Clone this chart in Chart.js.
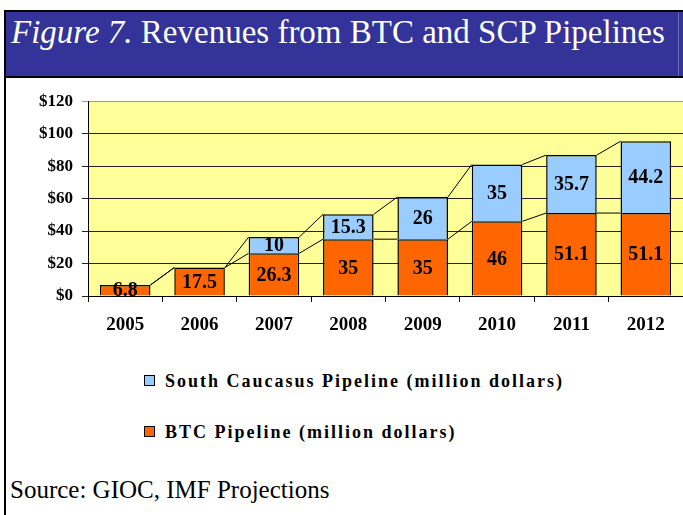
<!DOCTYPE html>
<html>
<head>
<meta charset="utf-8">
<script src="https://cdn.jsdelivr.net/npm/chart.js@4"></script>
<style>
  html, body { margin: 0; padding: 0; background: #fff; }
  body { width: 683px; height: 515px; position: relative; overflow: hidden; font-family: "Liberation Serif", serif; }
  #frameLeft { position: absolute; left: 4px; top: 10px; width: 2px; height: 505px; background: #000; }
  #title { position: absolute; left: 4px; top: 10px; width: 679px; height: 64px; background: #333399;
           border-top: 2px solid #000; border-bottom: 2px solid #000; border-left: 2px solid #000; box-sizing: content-box; }
  #titleText { position: absolute; left: 5px; top: 1px; color: #fff; font-size: 33px; line-height: 38px; white-space: nowrap; }
  #titleEdge { position: absolute; left: 672px; top: 0; width: 1px; height: 64px; background: #6a6ab8; }
  #chartWrap { position: absolute; left: 0; top: 82px; width: 683px; height: 258px; }
  #legend { position: absolute; left: 144px; top: 370px; }
  .lg { position: absolute; left: 0; white-space: nowrap; font-weight: bold; font-size: 18px; line-height: 22px; letter-spacing: 2px; color: #000; }
  .lg .box { display: inline-block; width: 9px; height: 9px; border: 1px solid #000; margin-right: 10px; vertical-align: 1px; }
  #source { position: absolute; left: 10px; top: 475px; font-size: 25px; line-height: 29px; color: #000; white-space: nowrap; }
</style>
</head>
<body>
<div id="title"><div id="titleText"><i>Figure 7.</i> Revenues from BTC and SCP Pipelines</div><div id="titleEdge"></div></div>
<div id="frameLeft"></div>
<div id="chartWrap"><canvas id="c" width="683" height="258"></canvas></div>
<div id="legend"></div>
<div id="source">Source: GIOC, IMF Projections</div>
<script>
const years = ['2005', '2006', '2007', '2008', '2009', '2010', '2011', '2012'];
const btcValues = [6.8, 17.5, 26.3, 35, 35, 46, 51.1, 51.1];
const scpValues = [0, 0, 10, 15.3, 26, 35, 35.7, 44.2];
const btcLabel = 'BTC Pipeline (million dollars)';
const scpLabel = 'South Caucasus Pipeline (million dollars)';
const yTicks = [0, 20, 40, 60, 80, 100, 120];

const FONT = '"Liberation Serif", serif';

const seriesLines = {
  id: 'seriesLines',
  afterDatasetsDraw(chart) {
    const ctx = chart.ctx;
    ctx.save();
    ctx.strokeStyle = '#000';
    ctx.lineWidth = 1;
    chart.data.datasets.forEach((ds, di) => {
      const meta = chart.getDatasetMeta(di);
      for (let j = 0; j < meta.data.length - 1; j++) {
        const a = meta.data[j], b = meta.data[j + 1];
        ctx.beginPath();
        ctx.moveTo(a.x + a.width / 2, a.y);
        ctx.lineTo(b.x - b.width / 2, b.y);
        ctx.stroke();
      }
    });
    ctx.restore();
  }
};

const barLabels = {
  id: 'barLabels',
  afterDraw(chart) {
    const ctx = chart.ctx;
    ctx.save();
    ctx.font = 'bold 20px ' + FONT;
    ctx.fillStyle = '#000';
    ctx.textAlign = 'center';
    ctx.textBaseline = 'middle';
    chart.data.datasets.forEach((ds, di) => {
      const meta = chart.getDatasetMeta(di);
      meta.data.forEach((el, j) => {
        const v = ds.data[j];
        if (!v) return;
        ctx.fillText(String(v), el.x, (el.y + el.base) / 2 + 1);
      });
    });
    ctx.restore();
  }
};

const chart = new Chart(document.getElementById('c'), {
  type: 'bar',
  data: {
    labels: years,
    datasets: [
      { label: btcLabel, data: btcValues, backgroundColor: '#FF6600', borderColor: '#000', borderWidth: 1.5,
        barPercentage: 0.68, categoryPercentage: 1.0 },
      { label: scpLabel, data: scpValues, backgroundColor: '#99CCFF', borderColor: '#000', borderWidth: 1.5,
        barPercentage: 0.68, categoryPercentage: 1.0 }
    ]
  },
  options: {
    responsive: false,
    animation: false,
    events: [],
    layout: { padding: { top: 0, left: 0, right: 0, bottom: 0 } },
    plugins: { legend: { display: false }, tooltip: { enabled: false } },
    scales: {
      x: {
        stacked: true,
        border: { color: '#000', width: 1 },
        grid: { drawOnChartArea: false, drawTicks: true, tickLength: 6, color: '#000', offset: true },
        ticks: { color: '#000', font: { family: FONT, weight: 'bold', size: 19 }, padding: 12 },
        afterFit(s) { s.height = 44; }
      },
      y: {
        stacked: true,
        min: 0, max: 120,
        afterBuildTicks(s) { s.ticks = yTicks.map(v => ({ value: v })); },
        border: { color: '#000', width: 1 },
        grid: { color: (c) => c.tick && c.tick.value === 120 ? '#999' : '#222', lineWidth: 1, tickLength: 6, drawTicks: true },
        ticks: { color: '#000', font: { family: FONT, weight: 'bold', size: 17 }, padding: 9,
                 callback: (v) => '$' + v },
        afterFit(s) { s.width = 88; }
      }
    }
  },
  plugins: [{
    id: 'bg',
    beforeDraw(chart) {
      const a = chart.chartArea;
      chart.ctx.save();
      chart.ctx.fillStyle = '#FFFF99';
      chart.ctx.fillRect(a.left, a.top, a.right - a.left, a.bottom - a.top);
      chart.ctx.restore();
    }
  }, seriesLines, barLabels]
});

// HTML legend built from the chart's datasets (reverse order like the original)
const legend = document.getElementById('legend');
const items = chart.data.datasets.slice().reverse();
items.forEach((ds, i) => {
  const d = document.createElement('div');
  d.className = 'lg';
  d.style.top = (i * 51) + 'px';
  d.innerHTML = '<span class="box" style="background:' + ds.backgroundColor + '"></span>' + ds.label;
  legend.appendChild(d);
});
</script>
</body>
</html>
